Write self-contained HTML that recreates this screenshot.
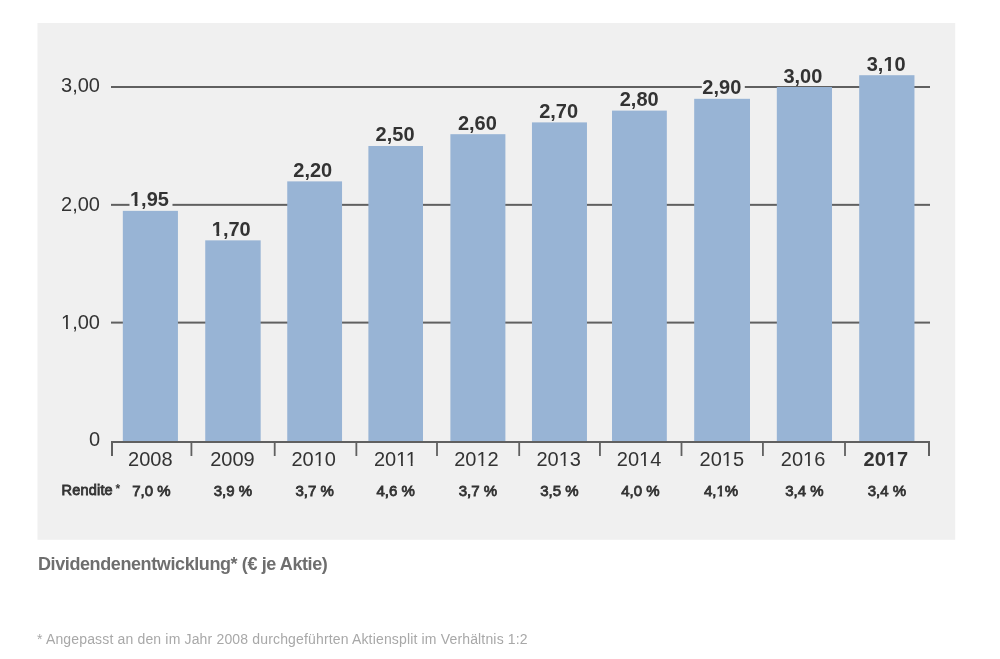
<!DOCTYPE html>
<html><head><meta charset="utf-8"><style>
html,body{margin:0;padding:0;background:#fff;width:1000px;height:659px;overflow:hidden}
body{font-family:"Liberation Sans",sans-serif;position:relative}
svg,.cap,.fn{will-change:transform}
svg{position:absolute;left:0;top:0}
svg text{font-family:"Liberation Sans",sans-serif}
.cap{position:absolute;left:38px;top:554px;font-size:18px;letter-spacing:-0.4px;font-weight:bold;color:#6e6e6e;white-space:nowrap}
.fn{position:absolute;left:37px;top:631px;font-size:14px;letter-spacing:0.16px;color:#a8a8a8;white-space:nowrap}
</style></head><body>
<svg width="1000" height="659" viewBox="0 0 1000 659">
<rect x="37.5" y="23" width="917.7" height="516.8" fill="#f0f0f0"/>
<rect x="111" y="86.00" width="819" height="2" fill="#606060"/>
<rect x="111" y="203.85" width="819" height="2" fill="#606060"/>
<rect x="111" y="321.60" width="819" height="2" fill="#606060"/>
<rect x="122.83" y="210.86" width="55.10" height="231.14" fill="#98b4d5"/>
<rect x="205.24" y="240.35" width="55.43" height="201.65" fill="#98b4d5"/>
<rect x="287.24" y="181.37" width="54.80" height="260.63" fill="#98b4d5"/>
<rect x="368.39" y="145.99" width="54.61" height="296.01" fill="#98b4d5"/>
<rect x="450.39" y="134.19" width="55.01" height="307.81" fill="#98b4d5"/>
<rect x="531.96" y="122.39" width="55.01" height="319.61" fill="#98b4d5"/>
<rect x="612.01" y="110.60" width="54.82" height="331.40" fill="#98b4d5"/>
<rect x="694.19" y="98.81" width="55.81" height="343.19" fill="#98b4d5"/>
<rect x="776.83" y="87.01" width="55.18" height="354.99" fill="#98b4d5"/>
<rect x="859.19" y="75.21" width="55.27" height="366.79" fill="#98b4d5"/>
<rect x="111" y="441" width="819" height="2" fill="#606060"/>
<rect x="111" y="441" width="2" height="15" fill="#606060"/>
<rect x="928" y="441" width="2" height="15" fill="#606060"/>
<rect x="190.52" y="441" width="1.8" height="15" fill="#606060"/>
<rect x="273.80" y="441" width="1.8" height="15" fill="#606060"/>
<rect x="355.46" y="441" width="1.8" height="15" fill="#606060"/>
<rect x="436.10" y="441" width="1.8" height="15" fill="#606060"/>
<rect x="518.30" y="441" width="1.8" height="15" fill="#606060"/>
<rect x="599.04" y="441" width="1.8" height="15" fill="#606060"/>
<rect x="680.60" y="441" width="1.8" height="15" fill="#606060"/>
<rect x="762.02" y="441" width="1.8" height="15" fill="#606060"/>
<rect x="844.10" y="441" width="1.8" height="15" fill="#606060"/>
<text x="100" y="92.30" text-anchor="end" font-size="20" fill="#333333">3,00</text>
<text x="100" y="211.30" text-anchor="end" font-size="20" fill="#333333">2,00</text>
<text x="100" y="329.40" text-anchor="end" font-size="20" fill="#333333">1,00</text>
<text x="100" y="446.00" text-anchor="end" font-size="20" fill="#333333">0</text>
<rect x="129.48" y="189.36" width="43" height="19" fill="#f0f0f0"/>
<text x="149.48" y="206.36" text-anchor="middle" font-size="20" font-weight="bold" fill="#333333">1,95</text>
<rect x="211.26" y="218.85" width="43" height="19" fill="#f0f0f0"/>
<text x="231.26" y="235.85" text-anchor="middle" font-size="20" font-weight="bold" fill="#333333">1,70</text>
<rect x="292.74" y="159.87" width="43" height="19" fill="#f0f0f0"/>
<text x="312.74" y="176.87" text-anchor="middle" font-size="20" font-weight="bold" fill="#333333">2,20</text>
<rect x="375.09" y="124.49" width="43" height="19" fill="#f0f0f0"/>
<text x="395.09" y="141.49" text-anchor="middle" font-size="20" font-weight="bold" fill="#333333">2,50</text>
<rect x="457.39" y="112.69" width="43" height="19" fill="#f0f0f0"/>
<text x="477.39" y="129.69" text-anchor="middle" font-size="20" font-weight="bold" fill="#333333">2,60</text>
<rect x="538.67" y="100.89" width="43" height="19" fill="#f0f0f0"/>
<text x="558.67" y="117.89" text-anchor="middle" font-size="20" font-weight="bold" fill="#333333">2,70</text>
<rect x="619.22" y="89.10" width="43" height="19" fill="#f0f0f0"/>
<text x="639.22" y="106.10" text-anchor="middle" font-size="20" font-weight="bold" fill="#333333">2,80</text>
<rect x="701.80" y="77.31" width="43" height="19" fill="#f0f0f0"/>
<text x="721.80" y="94.31" text-anchor="middle" font-size="20" font-weight="bold" fill="#333333">2,90</text>
<rect x="782.92" y="65.51" width="43" height="19" fill="#f0f0f0"/>
<text x="802.92" y="82.51" text-anchor="middle" font-size="20" font-weight="bold" fill="#333333">3,00</text>
<rect x="866.23" y="53.71" width="43" height="19" fill="#f0f0f0"/>
<text x="886.23" y="70.71" text-anchor="middle" font-size="20" font-weight="bold" fill="#333333">3,10</text>
<text x="150.28" y="466" text-anchor="middle" font-size="20" fill="#333333">2008</text>
<text x="232.46" y="466" text-anchor="middle" font-size="20" fill="#333333">2009</text>
<text x="313.74" y="466" text-anchor="middle" font-size="20" fill="#333333">2010</text>
<text x="395.39" y="466" text-anchor="middle" font-size="20" fill="#333333">2011</text>
<text x="476.50" y="466" text-anchor="middle" font-size="20" fill="#333333">2012</text>
<text x="558.76" y="466" text-anchor="middle" font-size="20" fill="#333333">2013</text>
<text x="639.12" y="466" text-anchor="middle" font-size="20" fill="#333333">2014</text>
<text x="721.80" y="466" text-anchor="middle" font-size="20" fill="#333333">2015</text>
<text x="803.12" y="466" text-anchor="middle" font-size="20" fill="#333333">2016</text>
<text x="885.83" y="466" text-anchor="middle" font-size="20" font-weight="bold" fill="#333333">2017</text>
<text x="61.5" y="495" font-size="14.5" letter-spacing="0.2" stroke="#333333" stroke-width="0.8" fill="#333333">Rendite</text>
<text x="115.5" y="493" font-size="12" font-weight="bold" fill="#333333">*</text>
<text x="151.38" y="495.7" text-anchor="middle" font-size="15" stroke="#333333" stroke-width="0.8" fill="#333333">7,0 %</text>
<text x="232.96" y="495.7" text-anchor="middle" font-size="15" stroke="#333333" stroke-width="0.8" fill="#333333">3,9 %</text>
<text x="314.64" y="495.7" text-anchor="middle" font-size="15" stroke="#333333" stroke-width="0.8" fill="#333333">3,7 %</text>
<text x="395.69" y="495.7" text-anchor="middle" font-size="15" stroke="#333333" stroke-width="0.8" fill="#333333">4,6 %</text>
<text x="477.89" y="495.7" text-anchor="middle" font-size="15" stroke="#333333" stroke-width="0.8" fill="#333333">3,7 %</text>
<text x="559.47" y="495.7" text-anchor="middle" font-size="15" stroke="#333333" stroke-width="0.8" fill="#333333">3,5 %</text>
<text x="640.42" y="495.7" text-anchor="middle" font-size="15" stroke="#333333" stroke-width="0.8" fill="#333333">4,0 %</text>
<text x="721.10" y="495.7" text-anchor="middle" font-size="15" stroke="#333333" stroke-width="0.8" fill="#333333">4,1%</text>
<text x="804.42" y="495.7" text-anchor="middle" font-size="15" stroke="#333333" stroke-width="0.8" fill="#333333">3,4 %</text>
<text x="886.83" y="495.7" text-anchor="middle" font-size="15" stroke="#333333" stroke-width="0.8" fill="#333333">3,4 %</text>
<rect x="61.99" y="326.81" width="4.06" height="3.39" fill="#f0f0f0"/>
<rect x="67.91" y="326.81" width="3.95" height="3.39" fill="#f0f0f0"/>
<rect x="130.67" y="203.22" width="3.96" height="3.94" fill="#f0f0f0"/>
<rect x="137.47" y="203.22" width="3.75" height="3.94" fill="#f0f0f0"/>
<rect x="212.45" y="232.71" width="3.96" height="3.94" fill="#f0f0f0"/>
<rect x="219.25" y="232.71" width="3.75" height="3.94" fill="#f0f0f0"/>
<rect x="884.09" y="67.57" width="3.96" height="3.94" fill="#f0f0f0"/>
<rect x="890.90" y="67.57" width="3.75" height="3.94" fill="#f0f0f0"/>
<rect x="314.65" y="463.41" width="4.06" height="3.39" fill="#f0f0f0"/>
<rect x="320.57" y="463.41" width="3.95" height="3.39" fill="#f0f0f0"/>
<rect x="397.04" y="463.41" width="4.06" height="3.39" fill="#f0f0f0"/>
<rect x="402.96" y="463.41" width="3.95" height="3.39" fill="#f0f0f0"/>
<rect x="406.68" y="463.41" width="4.06" height="3.39" fill="#f0f0f0"/>
<rect x="412.60" y="463.41" width="3.95" height="3.39" fill="#f0f0f0"/>
<rect x="477.41" y="463.41" width="4.06" height="3.39" fill="#f0f0f0"/>
<rect x="483.33" y="463.41" width="3.95" height="3.39" fill="#f0f0f0"/>
<rect x="559.67" y="463.41" width="4.06" height="3.39" fill="#f0f0f0"/>
<rect x="565.59" y="463.41" width="3.95" height="3.39" fill="#f0f0f0"/>
<rect x="640.03" y="463.41" width="4.06" height="3.39" fill="#f0f0f0"/>
<rect x="645.95" y="463.41" width="3.95" height="3.39" fill="#f0f0f0"/>
<rect x="722.71" y="463.41" width="4.06" height="3.39" fill="#f0f0f0"/>
<rect x="728.63" y="463.41" width="3.95" height="3.39" fill="#f0f0f0"/>
<rect x="804.03" y="463.41" width="4.06" height="3.39" fill="#f0f0f0"/>
<rect x="809.95" y="463.41" width="3.95" height="3.39" fill="#f0f0f0"/>
<rect x="886.47" y="462.86" width="3.96" height="3.94" fill="#f0f0f0"/>
<rect x="893.28" y="462.86" width="3.75" height="3.94" fill="#f0f0f0"/>
<rect x="716.64" y="493.08" width="2.78" height="3.82" fill="#f0f0f0"/>
<rect x="722.05" y="493.08" width="3.11" height="3.82" fill="#f0f0f0"/>
</svg>
<div class="cap">Dividendenentwicklung* (€ je Aktie)</div>
<div class="fn">* Angepasst an den im Jahr 2008 durchgeführten Aktiensplit im Verhältnis 1:2</div>
</body></html>
